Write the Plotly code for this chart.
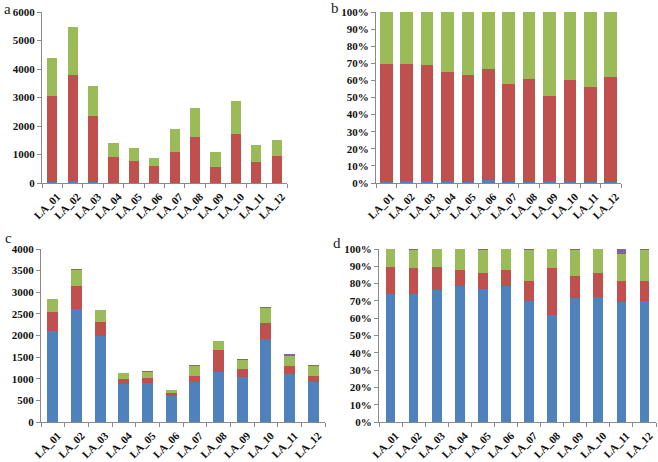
import numpy as np
import plotly.graph_objects as go

cats = ["LA_01", "LA_02", "LA_03", "LA_04", "LA_05", "LA_06",
        "LA_07", "LA_08", "LA_09", "LA_10", "LA_11", "LA_12"]

# Panel a (counts) – stacked segments
a_blue = [35, 55, 40, 14, 10, 16, 10, 13, 11, 9, 7, 5]
a_red = [3020, 3750, 2310, 910, 770, 575, 1095, 1585, 550, 1715, 735, 935]
a_green = [1345, 1665, 1060, 496, 450, 299, 805, 1032, 539, 1146, 578, 570]

# Panel c (counts) – stacked segments
c_blue = [2100, 2610, 1980, 890, 900, 590, 920, 1160, 1040, 1910, 1100, 920]
c_red = [450, 540, 340, 100, 110, 70, 150, 510, 180, 380, 190, 150]
c_green = [290, 365, 265, 135, 150, 88, 235, 205, 225, 355, 240, 235]
c_purple = [5, 15, 3, 3, 10, 2, 5, 5, 5, 5, 50, 5]

COL = {"blue": "#4F81BD", "red": "#C0504D", "green": "#9BBB59", "purple": "#8064A2"}
FONT = "Liberation Serif"


def pct(series):
    arr = np.array(series, dtype=float)
    return arr / arr.sum(axis=0)


fig = go.Figure()

def add(vals, color, xa, ya, width):
    fig.add_trace(go.Bar(x=cats, y=vals, marker=dict(color=color, line=dict(width=0)),
                         xaxis=xa, yaxis=ya, width=width, showlegend=False))

a_pct = pct([a_blue, a_red, a_green])
c_pct = pct([c_blue, c_red, c_green, c_purple])

for v, c in zip([a_blue, a_red, a_green], ["blue", "red", "green"]):
    add(v, COL[c], "x", "y", 0.5)
for v, c in zip(a_pct, ["blue", "red", "green"]):
    add(v, COL[c], "x2", "y2", 0.62)
for v, c in zip([c_blue, c_red, c_green, c_purple], ["blue", "red", "green", "purple"]):
    add(v, COL[c], "x3", "y3", 0.46)
for v, c in zip(c_pct, ["blue", "red", "green", "purple"]):
    add(v, COL[c], "x4", "y4", 0.42)

W, H = 658, 462
def dx(a, b):
    return [a / W, b / W]
def dy(top, bot):
    return [1 - bot / H, 1 - top / H]

tickfont = dict(family=FONT, size=11, color="#111", weight="bold")
xcommon = dict(type="category", showline=True, linecolor="#8a8a8a", linewidth=1,
               ticks="outside", tickson="boundaries", ticklen=4, tickcolor="#8a8a8a",
               tickangle=-45, tickfont=tickfont,
               ticklabelstandoff=2, ticklabelshift=5, showgrid=False, zeroline=False,
               fixedrange=True, automargin=False)
ycommon = dict(showline=True, linecolor="#8a8a8a", linewidth=1, ticks="outside",
               ticklen=4, tickcolor="#8a8a8a", tickfont=tickfont, showgrid=False,
               zeroline=False, fixedrange=True, automargin=False)

fig.update_layout(
    width=W, height=H, margin=dict(l=0, r=0, t=0, b=0, autoexpand=False),
    paper_bgcolor="white", plot_bgcolor="white", barmode="stack",
    font=dict(family=FONT),
    xaxis=dict(domain=dx(42, 287), anchor="y", **xcommon),
    yaxis=dict(domain=dy(12, 183), anchor="x", range=[0, 6000], dtick=1000, **ycommon),
    xaxis2=dict(domain=dx(376, 621), anchor="y2", **xcommon),
    yaxis2=dict(domain=dy(12, 183), anchor="x2", range=[0, 1], dtick=0.1, tickformat=".0%", **ycommon),
    xaxis3=dict(domain=dx(41, 325), anchor="y3", **xcommon),
    yaxis3=dict(domain=dy(249, 422), anchor="x3", range=[0, 4000], dtick=500, **ycommon),
    xaxis4=dict(domain=dx(379, 656), anchor="y4", **xcommon),
    yaxis4=dict(domain=dy(249, 422), anchor="x4", range=[0, 1], dtick=0.1, tickformat=".0%", **ycommon),
)

for txt, x, y in [("a", 2, 9), ("b", 329, 8), ("c", 3, 238), ("d", 331, 243)]:
    fig.add_annotation(text=txt, x=x / W, y=1 - y / H, xref="paper", yref="paper",
                       xanchor="left", yanchor="middle", showarrow=False,
                       font=dict(family=FONT, size=15, color="#222"))

fig.write_html("out.html", config={"displayModeBar": False, "staticPlot": True},
               post_script="document.body.style.margin='0';document.body.style.overflow='hidden';")
